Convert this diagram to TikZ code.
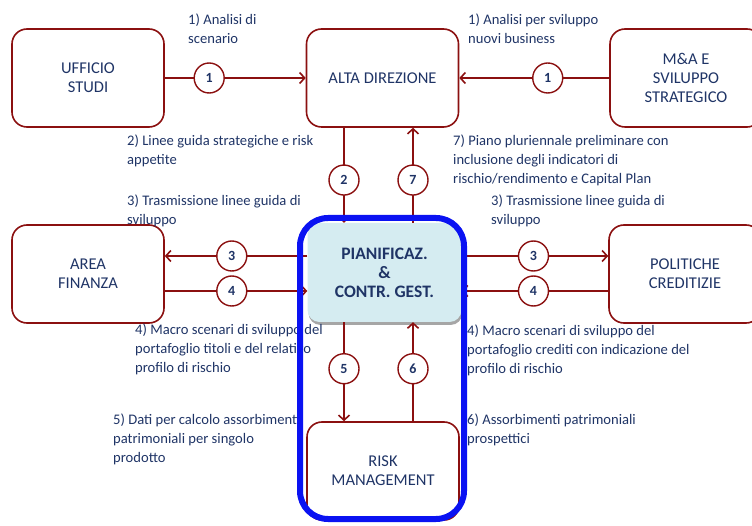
\documentclass[tikz,border=0pt]{standalone}
\usepackage{fontspec}
\setmainfont{Carlito}
\usetikzlibrary{arrows.meta,shadows}
\definecolor{boxred}{HTML}{8B1010}
\definecolor{navy}{HTML}{1F3466}
\definecolor{cellfill}{HTML}{D5ECF1}
\definecolor{frameblue}{HTML}{0A12F2}
\tikzset{
  unit/.style={draw=boxred,line width=1.6pt,rounded corners=15pt,minimum width=152pt,minimum height=98pt,
    align=center,text=navy,font=\fontsize{16.5}{19}\selectfont},
  num/.style={circle,draw=boxred,fill=white,line width=1.4pt,minimum size=30pt,inner sep=0pt,
    text=navy,font=\bfseries\fontsize{14}{14}\selectfont},
  flow/.style={draw=boxred,line width=1.6pt,-{Straight Barb[length=5pt,width=11pt,line width=1.6pt]}},
  note/.style={anchor=north west,align=left,inner sep=0pt,text=navy,font=\fontsize{14.6}{19}\selectfont}
}
\begin{document}
\begin{tikzpicture}[x=1pt,y=-1pt]
  \useasboundingbox (0,0) rectangle (752,526);
  % boxes
  \node[unit] (ufficio) at (88,78) {UFFICIO\\STUDI};
  \node[unit] (alta) at (382.5,78) {ALTA DIREZIONE};
  \node[unit] (ma) at (686,78) {M\&A E\\SVILUPPO\\STRATEGICO};
  \node[unit] (finanza) at (88,274) {AREA\\FINANZA};
  \node[unit] (politiche) at (685,274) {POLITICHE\\CREDITIZIE};
  \node[unit] (risk) at (383,471) {RISK\\MANAGEMENT};
  \node[draw=none,fill=cellfill,rounded corners=12pt,minimum width=154pt,minimum height=99pt,align=center,
    text=navy,font=\bfseries\fontsize{17.5}{19}\selectfont,
    drop shadow={shadow xshift=1pt,shadow yshift=-3pt,fill=black,opacity=0.35}] (pianif) at (384.5,272.5)
    {PIANIFICAZ.\\\&\\CONTR. GEST.};
  % connectors
  \draw[flow] (ufficio.east) -- node[num,pos=0.315]{1} (alta.west);
  \draw[flow] (ma.west) -- node[num,pos=0.41]{1} (alta.east);
  \draw[flow] ([xshift=-38.5pt]alta.south) -- node[num,pos=0.55]{2} ([xshift=-38.5pt]alta.south |- pianif.north);
  \draw[flow] ([xshift=30.5pt]alta.south |- pianif.north) -- node[num,pos=0.45]{7} ([xshift=30.5pt]alta.south);
  \draw[flow] ([yshift=18pt]finanza.east -| pianif.west) -- node[num,pos=0.53]{3} ([yshift=18pt]finanza.east);
  \draw[flow] ([yshift=-17pt]finanza.east) -- node[num,pos=0.47]{4} ([yshift=-17pt]finanza.east -| pianif.west);
  \draw[flow] ([yshift=18pt]politiche.west -| pianif.east) -- node[num,pos=0.49]{3} ([yshift=18pt]politiche.west);
  \draw[flow] ([yshift=-17pt]politiche.west) -- node[num,pos=0.51]{4} ([yshift=-17pt]politiche.west -| pianif.east);
  \draw[flow] ([xshift=-39pt]risk.north |- pianif.south) -- node[num,pos=0.47]{5} ([xshift=-39pt]risk.north);
  \draw[flow] ([xshift=30pt]risk.north) -- node[num,pos=0.53]{6} ([xshift=30pt]risk.north |- pianif.south);
  % labels
  \node[note] (n1a) at (188,14) {1) Analisi di\\scenario};
  \node[note] (n1b) at (468,14) {1) Analisi per sviluppo\\nuovi business};
  \node[note] (n2) at (127,135) {2) Linee guida strategiche e risk\\appetite};
  \node[note] (n3a) at (127,195) {3) Trasmissione linee guida di\\sviluppo};
  \node[note] (n7) at (453,135) {7) Piano pluriennale preliminare con\\inclusione degli indicatori di\\rischio/rendimento e Capital Plan};
  \node[note] (n3b) at (491,195) {3) Trasmissione linee guida di\\sviluppo};
  \node[note] (n4a) at (135,324) {4) Macro scenari di sviluppo del\\portafoglio titoli e del relativo\\profilo di rischio};
  \node[note] (n4b) at (467,325) {4) Macro scenari di sviluppo del\\portafoglio crediti con indicazione del\\profilo di rischio};
  \node[note] (n5) at (113,414) {5) Dati per calcolo assorbimenti\\patrimoniali per singolo\\prodotto};
  \node[note] (n6) at (467,414) {6) Assorbimenti patrimoniali\\prospettici};
  % frame
  \draw[frameblue,line width=6pt,rounded corners=28pt] (300,218) rectangle (464,519);
\end{tikzpicture}
\end{document}
